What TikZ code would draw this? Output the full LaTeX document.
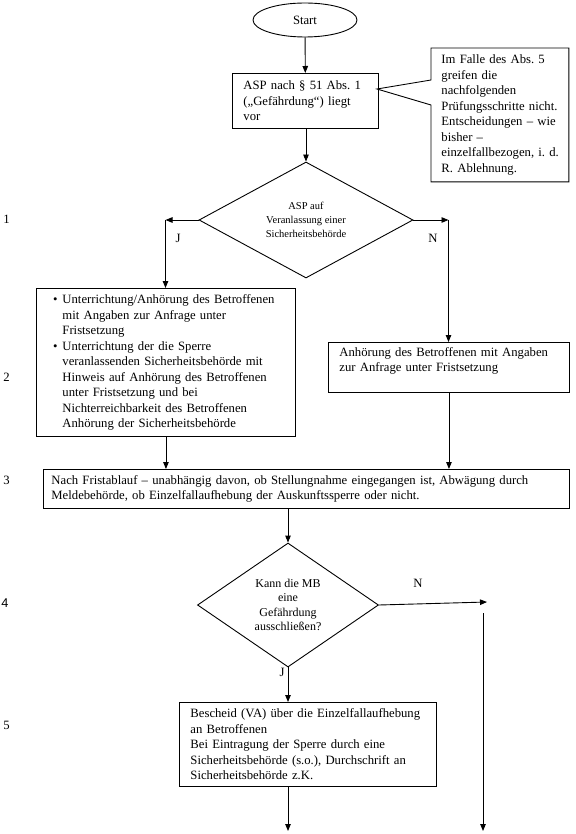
\documentclass[tikz,border=0pt]{standalone}
\usepackage{fontspec}
\setmainfont{Liberation Serif}
\newfontfamily\numsans{Liberation Sans}
\usetikzlibrary{shapes.geometric,arrows.meta,calc}
\frenchspacing
\tikzset{
  every picture/.style={line width=0.9pt},
  boxnode/.style={draw, rectangle, align=left, inner xsep=11pt, inner ysep=0pt,
    font=\fontsize{12.7}{15.5}\selectfont, anchor=north west},
  decnode/.style={draw, diamond, inner sep=0pt, align=center},
  arr/.style={-{Triangle[length=7pt,width=5.5pt]}},
  lbl/.style={font=\fontsize{12.7}{15}\selectfont, inner sep=0pt},
  numlbl/.style={font=\fontsize{12.7}{15}\selectfont, inner sep=0pt, anchor=west},
}
\begin{document}
\begin{tikzpicture}[x=1pt,y=-1pt]
\useasboundingbox (0,0) rectangle (575,834);
\fill[white] (0,0) rectangle (575,834);

% Start
\node[draw, ellipse, minimum width=104pt, minimum height=34pt, inner sep=0pt,
  font=\fontsize{12.7}{15}\selectfont] (start) at (305,20) {Start};

% ASP box
\node[boxnode, text width=124pt, minimum height=55pt] (asp) at (232,73)
  {ASP nach § 51 Abs. 1\\(„Gefährdung“) liegt\\vor};

% callout
\node[boxnode, draw=none, inner xsep=10pt, text width=117pt, minimum height=133pt] (note) at (431,48)
  {Im Falle des Abs. 5\\greifen die\\nachfolgenden\\\mbox{Prüfungsschritte nicht.}\\Entscheidungen – wie\\bisher –\\\mbox{einzelfallbezogen, i. d.}\\R. Ablehnung.};
\coordinate (tip) at (377,89);
\draw (tip) -- (note.north west |- 0,80) -- (note.north west) -- (note.north east)
  -- (note.south east) -- (note.south west) -- (note.north west |- 0,105) -- cycle;

% decision 1
\node[decnode, minimum width=214pt, minimum height=116pt,
  font=\fontsize{10.5}{14}\selectfont] (d1) at (306,220)
  {ASP auf\\Veranlassung einer\\Sicherheitsbehörde};
\coordinate (jc) at (165.5,220);
\coordinate (nc) at (448.5,220);

% left box
\node[boxnode, text width=237pt, minimum height=148pt] (lbox) at (36,288)
  {\begin{minipage}{237pt}\fontsize{12.7}{15.5}\selectfont
   \begin{list}{\textbullet}{\leftmargin=15pt\labelwidth=10pt\labelsep=5pt\itemsep=0pt\parsep=0pt\topsep=0pt\partopsep=0pt}
   \item Unterrichtung/Anhörung des Betroffenen\\mit Angaben zur Anfrage unter\\Fristsetzung
   \item Unterrichtung der die Sperre\\veranlassenden Sicherheitsbehörde mit\\Hinweis auf Anhörung des Betroffenen\\unter Fristsetzung und bei\\Nichterreichbarkeit des Betroffenen\\Anhörung der Sicherheitsbehörde
   \end{list}\end{minipage}};

% right box
\node[boxnode, text width=219pt, minimum height=50pt] (rbox) at (328,342)
  {Anhörung des Betroffenen mit Angaben\\zur Anfrage unter Fristsetzung\\\mbox{}};

% box 3
\node[boxnode, inner xsep=8pt, text width=510pt, minimum height=39pt] (box3) at (43,469)
  {Nach Fristablauf – unabhängig davon, ob Stellungnahme eingegangen ist, Abwägung durch\\Meldebehörde, ob Einzelfallaufhebung der Auskunftssperre oder nicht.};

% decision 2
\node[decnode, minimum width=181pt, minimum height=124pt,
  font=\fontsize{12}{14.5}\selectfont] (d2) at (288,605)
  {Kann die MB\\eine\\Gefährdung\\ausschließen?};

% box 5
\node[boxnode, text width=235pt, minimum height=84pt] (box5) at (179,702)
  {Bescheid (VA) über die Einzelfallaufhebung\\an Betroffenen\\Bei Eintragung der Sperre durch eine\\Sicherheitsbehörde (s.o.), Durchschrift an\\Sicherheitsbehörde z.K.};

\coordinate (n2) at (487,602);
\coordinate (v1) at (483,613);
\coordinate (v2) at (483,831);
\coordinate (e1) at (288,831);

% connectors
\draw[arr] (start) -- (asp);
\draw[arr] (asp.south -| d1.north) -- (d1.north);
\draw[arr] (d1.west) -- (jc);
\draw[arr] (jc) -- (jc |- lbox.north);
\draw[arr] (d1.east) -- (nc);
\draw[arr] (nc) -- (nc |- rbox.north);
\draw[arr] (lbox.south) -- (lbox.south |- box3.north);
\draw[arr] (rbox.south) -- (rbox.south |- box3.north);
\draw[arr] (d2.north |- box3.south) -- (d2.north);
\draw[arr] (d2.east) -- (n2);
\draw[arr] (v1) -- (v2);
\draw[arr] (d2.south) -- (d2.south |- box5.north);
\draw[arr] (box5.south -| e1) -- (e1);

% labels
\node[lbl] (lj1) at (178,238) {J};
\node[lbl] (ln1) at (433,238) {N};
\node[lbl] (ln2) at (418,583) {N};
\node[lbl] (lj2) at (282,672) {J};

\node[numlbl] (num1) at (3,219) {1};
\node[numlbl] (num2) at (3,377) {2};
\node[numlbl] (num3) at (3,480) {3};
\node[numlbl, font=\numsans\fontsize{12.7}{15}\selectfont] (num4) at (1,603) {4};
\node[numlbl] (num5) at (3,725) {5};
\end{tikzpicture}
\end{document}
